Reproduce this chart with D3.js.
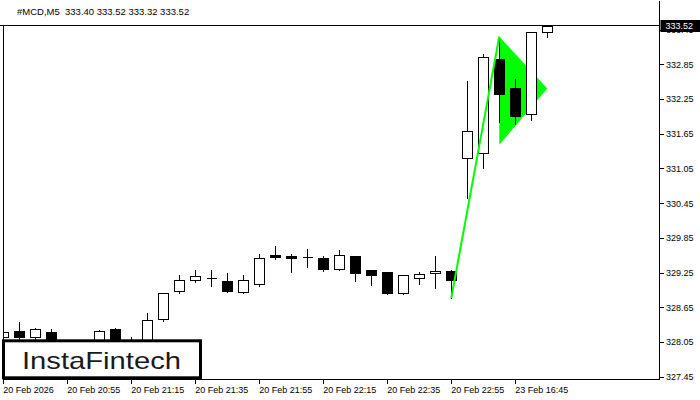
<!DOCTYPE html>
<html><head><meta charset="utf-8">
<script src="https://cdn.jsdelivr.net/npm/d3@7/dist/d3.min.js"></script>
<style>
html,body{margin:0;padding:0;background:#fff;}
svg{display:block;}
text{font-family:"Liberation Sans",Arial,sans-serif;}
</style></head>
<body>
<svg id="chart" width="700" height="400"></svg>
<script>
// ---- DATA ----
const symbol = "#MCD,M5";
const lastQuote = [333.40, 333.52, 333.32, 333.52];
const opens  = [328.13,328.24,328.14,328.22,328.00,327.96,328.02,328.27,328.05,327.99,
                328.44,328.94,329.12,329.15,329.10,328.92,329.05,329.55,329.54,329.52,
                329.50,329.32,329.54,329.29,329.26,328.89,329.15,329.24,329.27,331.23,
                331.31,332.95,332.44,331.99,333.40];
const highs  = [328.43,328.41,328.31,328.29,328.05,328.02,328.27,328.31,328.15,328.56,
                328.91,329.23,329.31,329.31,329.26,329.23,329.58,329.73,329.59,329.67,
                329.55,329.65,329.55,329.30,329.27,329.23,329.28,329.55,329.32,332.58,
                333.05,333.33,332.61,333.42,333.52];
const lows   = [328.12,328.08,328.08,328.06,327.93,327.90,327.98,327.98,327.95,327.95,
                328.42,328.89,329.09,329.02,328.92,328.89,329.02,329.49,329.26,329.34,
                329.28,329.29,329.11,329.04,328.88,328.88,329.05,328.99,328.81,330.54,
                331.06,331.86,331.82,331.89,333.32];
const closes = [328.23,328.14,328.27,328.10,327.96,328.00,328.24,328.02,328.02,328.43,
                328.89,329.13,329.19,329.15,328.94,329.12,329.51,329.52,329.50,329.52,
                329.31,329.55,329.25,329.20,328.89,329.21,329.22,329.28,329.13,331.69,
                332.97,332.33,331.96,333.40,333.52];
const priceTicks = [327.45,328.05,328.65,329.25,329.85,330.45,331.05,331.65,332.25,332.85,333.45];
const timeLabelIdx = [0,4,8,12,16,20,24,28,32];
const timeLabels = ["20 Feb 2026","20 Feb 20:55","20 Feb 21:15","20 Feb 21:35","20 Feb 21:55",
                    "20 Feb 22:15","20 Feb 22:35","20 Feb 22:55","23 Feb 16:45"];
// pattern: flagpole and pennant (candle index, price)
const poleIdx = [28, 31];
const polePrice = [328.81, 333.33];
const pennantIdx = [31, 34, 31];
const pennantPrice = [333.33, 332.43, 331.46];
const logoText = "InstaFintech";

// ---- LAYOUT ----
const svg = d3.select("#chart");
const L = 3, R = 659.5, T = 25.5, B = 379.5;
const x = d3.scaleLinear().domain([0, 41]).range([3.3, 659.3]);
const y = d3.scaleLinear().domain([327.45, 333.45]).range([376.7, 29.6]);

svg.append("defs").append("clipPath").attr("id","plotclip")
  .append("rect").attr("x", L).attr("y", T).attr("width", R - L).attr("height", B - T);

// header
svg.append("text").attr("x", 17).attr("y", 15).attr("font-size", "9.5px").attr("fill", "#000")
  .attr("xml:space","preserve")
  .text(symbol + "  " + lastQuote.map(v => v.toFixed(2)).join(" "));

const plot = svg.append("g").attr("clip-path", "url(#plotclip)");

// pennant triangle
const triPts = pennantIdx.map((d, i) => [x(d), y(pennantPrice[i])]);
plot.append("path").attr("d", d3.line()(triPts) + "Z").attr("fill", "#00ff00").attr("stroke", "none");

// candles
const data = opens.map((o, i) => ({i, o, h: highs[i], l: lows[i], c: closes[i]}));
const cg = plot.append("g").attr("shape-rendering", "crispEdges");
data.forEach(d => {
  const a = Math.round(x(d.i)) - 5;
  const cx = a + 5.5;
  cg.append("line").attr("x1", cx).attr("x2", cx)
    .attr("y1", Math.round(y(d.h)) + 0.5).attr("y2", Math.round(y(d.l)) + 0.5)
    .attr("stroke", "#000").attr("stroke-width", 1);
  const yt = Math.round(y(Math.max(d.o, d.c))) + 0.5;
  const yb = Math.round(y(Math.min(d.o, d.c))) + 0.5;
  if (yb - yt < 1) {
    cg.append("line").attr("x1", a + 0.5).attr("x2", a + 10.5).attr("y1", yt).attr("y2", yt)
      .attr("stroke", "#000").attr("stroke-width", 1);
  } else {
    cg.append("rect").attr("x", a + 0.5).attr("y", yt).attr("width", 10).attr("height", yb - yt)
      .attr("fill", d.c >= d.o ? "#fff" : "#000").attr("stroke", "#000").attr("stroke-width", 1);
  }
});

// flagpole
const polePts = poleIdx.map((d, i) => [x(d), y(polePrice[i])]);
plot.append("path").attr("d", d3.line()(polePts)).attr("fill", "none")
  .attr("stroke", "#00ff00").attr("stroke-width", 2);

// frame
const fr = svg.append("g").attr("shape-rendering", "crispEdges").attr("stroke", "#000").attr("stroke-width", 1);
fr.append("line").attr("x1", 0).attr("x2", R).attr("y1", T).attr("y2", T);
fr.append("line").attr("x1", L).attr("x2", L).attr("y1", T).attr("y2", B);
fr.append("line").attr("x1", R).attr("x2", R).attr("y1", T - 25).attr("y2", B);
fr.append("line").attr("x1", L).attr("x2", R).attr("y1", B).attr("y2", B);

// right price axis
const yAxis = d3.axisRight(y).tickValues(priceTicks).tickFormat(d3.format(".2f")).tickSize(4).tickPadding(2);
const ya = svg.append("g").attr("transform", `translate(${R + 0.5},0)`).call(yAxis);
ya.select(".domain").remove();
ya.selectAll("text").attr("font-size", "9px").attr("fill", "#000").attr("font-family", "Liberation Sans, Arial, sans-serif");
ya.selectAll("line").attr("stroke", "#000").attr("shape-rendering", "crispEdges");

// bottom time axis
const xAxis = d3.axisBottom(x).tickValues(timeLabelIdx).tickFormat((d, i) => timeLabels[i]).tickSize(4).tickPadding(3);
const xa = svg.append("g").attr("transform", `translate(0,${B})`).call(xAxis);
xa.select(".domain").remove();
xa.selectAll("text").attr("font-size", "9px").attr("fill", "#000").attr("text-anchor", "start")
  .attr("dx", "-0.6").attr("font-family", "Liberation Sans, Arial, sans-serif");
xa.selectAll("line").attr("stroke", "#000").attr("shape-rendering", "crispEdges");

// current price tag
const lastY = y(lastQuote[3]);
svg.append("rect").attr("x", R + 1).attr("y", Math.round(lastY) - 6).attr("width", 40).attr("height", 12).attr("fill", "#000");
svg.append("text").attr("x", R + 6).attr("y", lastY).attr("dy", "0.35em").attr("font-size", "9px")
  .attr("fill", "#fff").text(lastQuote[3].toFixed(2));

// logo
svg.append("rect").attr("x", 3.5).attr("y", 340.8).attr("width", 197).attr("height", 37)
  .attr("fill", "#fff").attr("stroke", "#000").attr("stroke-width", 3);
svg.append("text").attr("x", 22).attr("y", 369).attr("font-size", "24px")
  .attr("font-family", "Lato, 'Open Sans', sans-serif").attr("fill", "#1a1a1a")
  .attr("textLength", 159).attr("lengthAdjust", "spacingAndGlyphs").text(logoText);
</script>
</body></html>
